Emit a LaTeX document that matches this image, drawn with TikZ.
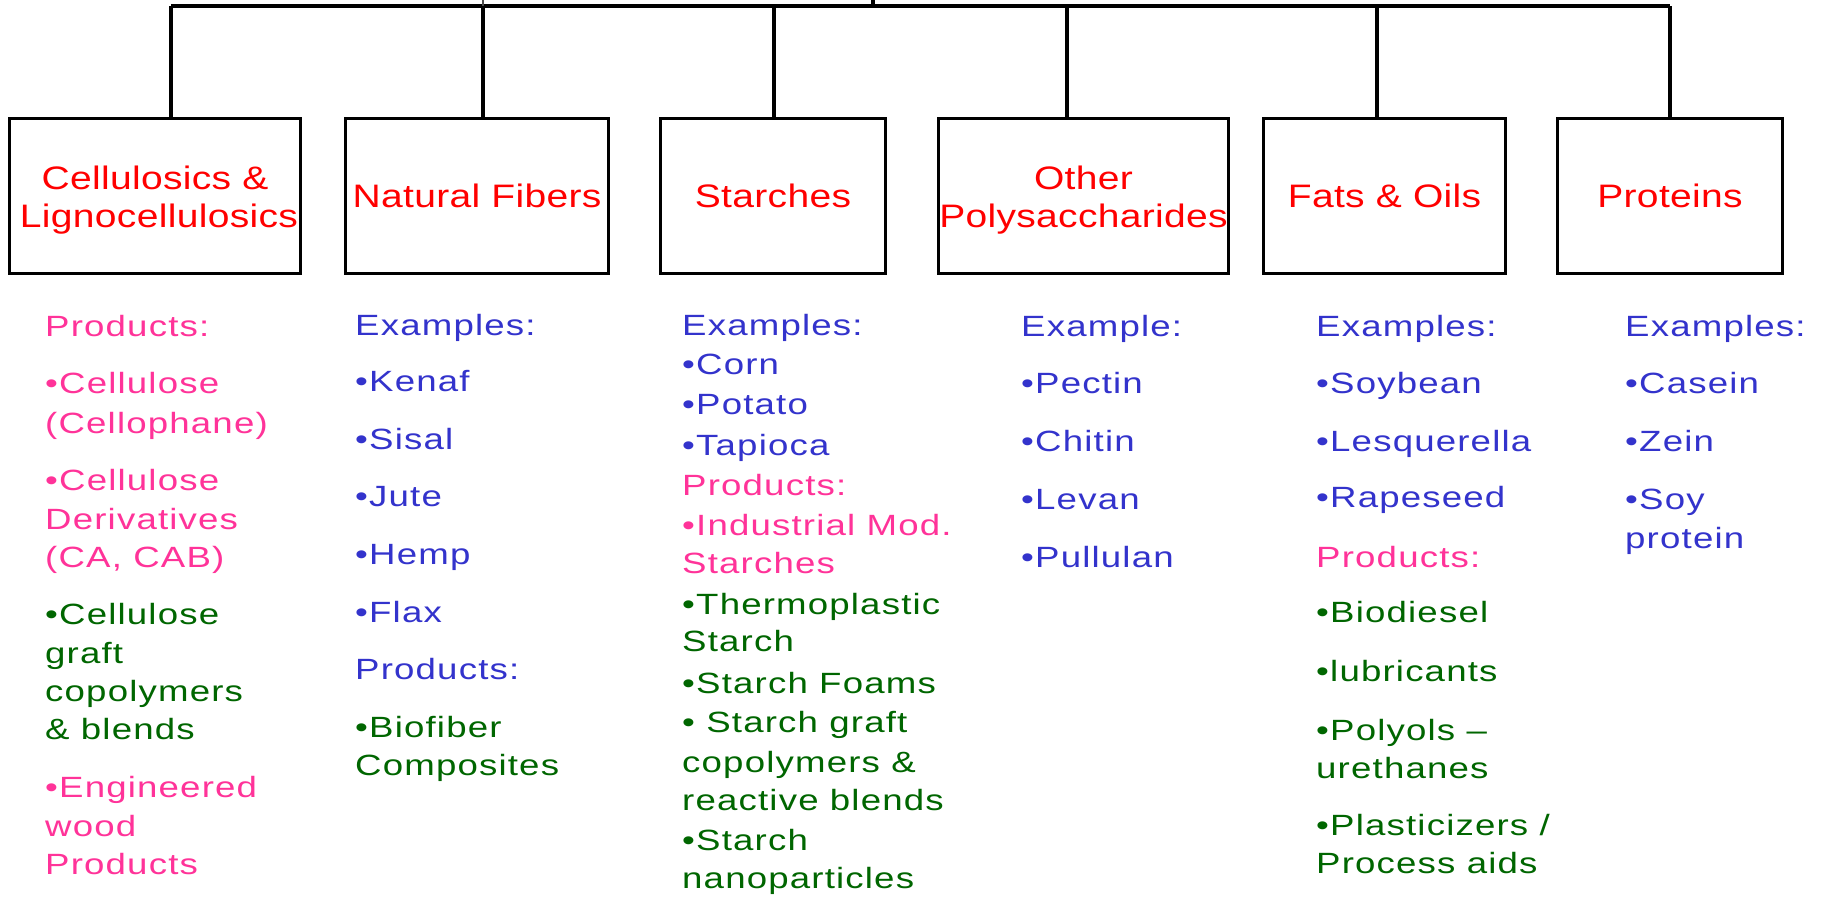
\documentclass[tikz,border=0pt]{standalone}
\usepackage{fontspec}
\setmainfont{Liberation Sans}
\newfontfamily\bodyfont[FakeStretch=1.25,LetterSpace=4]{Liberation Sans}
\newfontfamily\titlefont[FakeStretch=1.2,LetterSpace=1]{Liberation Sans}
\definecolor{titlered}{RGB}{255,0,0}
\definecolor{pinkc}{RGB}{255,51,153}
\definecolor{bluec}{RGB}{51,51,204}
\definecolor{greenc}{RGB}{0,102,0}
\newcommand\bul{•}
\newcommand\topstrut{\rule{0pt}{31pt}}
\tikzset{
  catbox/.style={draw=black, line width=3.3pt, text=titlered, align=center, inner sep=0pt,
    minimum height=155pt, font=\titlefont\fontsize{32.5}{38}\selectfont},
  bodyline/.style={anchor=base west, inner sep=0pt, font=\bodyfont\fontsize{29.3}{34}\selectfont},
  link/.style={draw=black, line width=3.3pt},
  thinlink/.style={draw=black!70, line width=1.4pt},
}
\begin{document}
\begin{tikzpicture}[x=1pt,y=1pt]
\useasboundingbox (0,0) rectangle (1822,-898);
\fill[white] (0,0) rectangle (1822,-898);

% category boxes
\node[catbox, minimum width=291pt] (b1) at (155,-196) {\topstrut Cellulosics \&\\\hspace*{8pt}Lignocellulosics};
\node[catbox, minimum width=263pt] (b2) at (477,-196) {Natural Fibers};
\node[catbox, minimum width=225pt] (b3) at (773,-196) {Starches};
\node[catbox, minimum width=290pt] (b4) at (1083.5,-196) {\topstrut Other\\Polysaccharides};
\node[catbox, minimum width=242pt] (b5) at (1384.5,-196) {Fats \& Oils};
\node[catbox, minimum width=225pt] (b6) at (1670,-196) {Proteins};

% bus coordinates
\coordinate (t1) at (171,-6);
\coordinate (t2) at (483,-6);
\coordinate (t3) at (774,-6);
\coordinate (t4) at (1067,-6);
\coordinate (t5) at (1377,-6);
\coordinate (t6) at (1670,-6);
\coordinate (up) at (873,0);
\coordinate (upb) at (873,-6);
\coordinate (up2) at (483,0);

\draw[link] (t1) -- (t6);
\draw[link] (up) -- (upb);
\draw[thinlink] (up2) -- (t2);
\foreach \k in {1,...,6} \draw[link] (t\k) -- (t\k |- b\k.north);

% column 1
\foreach \y/\c/\t [count=\i] in {
  336.5/pinkc/Products:,
  393.5/pinkc/\bul Cellulose,
  433/pinkc/(Cellophane),
  490/pinkc/\bul Cellulose,
  529.4/pinkc/Derivatives,
  567.8/pinkc/{(CA, CAB)},
  624.7/greenc/\bul Cellulose,
  663/greenc/graft,
  701.4/greenc/copolymers,
  739.7/greenc/\& blends,
  797.8/pinkc/\bul Engineered,
  836.2/pinkc/wood,
  874.5/pinkc/Products}
  \node[bodyline, text=\c] (ca\i) at (45,-\y) {\t};

% column 2
\foreach \y/\c/\t [count=\i] in {
  335.4/bluec/Examples:,
  391.1/bluec/\bul Kenaf,
  449.2/bluec/\bul Sisal,
  506.2/bluec/\bul Jute,
  564.3/bluec/\bul Hemp,
  622.4/bluec/\bul Flax,
  679.3/bluec/Products:,
  737.4/greenc/\bul Biofiber,
  775.8/greenc/Composites}
  \node[bodyline, text=\c] (cb\i) at (355,-\y) {\t};

% column 3
\foreach \y/\c/\t [count=\i] in {
  335.4/bluec/Examples:,
  374.9/bluec/\bul Corn,
  414.4/bluec/\bul Potato,
  455/bluec/\bul Tapioca,
  495.7/pinkc/Products:,
  535.2/pinkc/\bul Industrial Mod.,
  573.6/pinkc/Starches,
  614.2/greenc/\bul Thermoplastic,
  651.4/greenc/Starch,
  693.3/greenc/\bul Starch Foams,
  732.8/greenc/\bul\ Starch graft,
  772.3/greenc/copolymers \&,
  810.6/greenc/reactive blends,
  850.1/greenc/\bul Starch,
  888.5/greenc/nanoparticles}
  \node[bodyline, text=\c] (cc\i) at (682,-\y) {\t};

% column 4
\foreach \y/\c/\t [count=\i] in {
  336.5/bluec/Example:,
  393.5/bluec/\bul Pectin,
  451.6/bluec/\bul Chitin,
  509.7/bluec/\bul Levan,
  567.8/bluec/\bul Pullulan}
  \node[bodyline, text=\c] (cd\i) at (1021,-\y) {\t};

% column 5
\foreach \y/\c/\t [count=\i] in {
  336.5/bluec/Examples:,
  393.5/bluec/\bul Soybean,
  451.6/bluec/\bul Lesquerella,
  507.3/bluec/\bul Rapeseed,
  567.8/pinkc/Products:,
  622.4/greenc/\bul Biodiesel,
  681.6/greenc/\bul lubricants,
  740.9/greenc/\bul Polyols –,
  778.1/greenc/urethanes,
  835/greenc/{\bul Plasticizers /},
  873.4/greenc/Process aids}
  \node[bodyline, text=\c] (ce\i) at (1316,-\y) {\t};

% column 6
\foreach \y/\c/\t [count=\i] in {
  336.5/bluec/Examples:,
  393.5/bluec/\bul Casein,
  451.6/bluec/\bul Zein,
  509.7/bluec/\bul Soy,
  548/bluec/protein}
  \node[bodyline, text=\c] (cf\i) at (1625,-\y) {\t};
\end{tikzpicture}
\end{document}
